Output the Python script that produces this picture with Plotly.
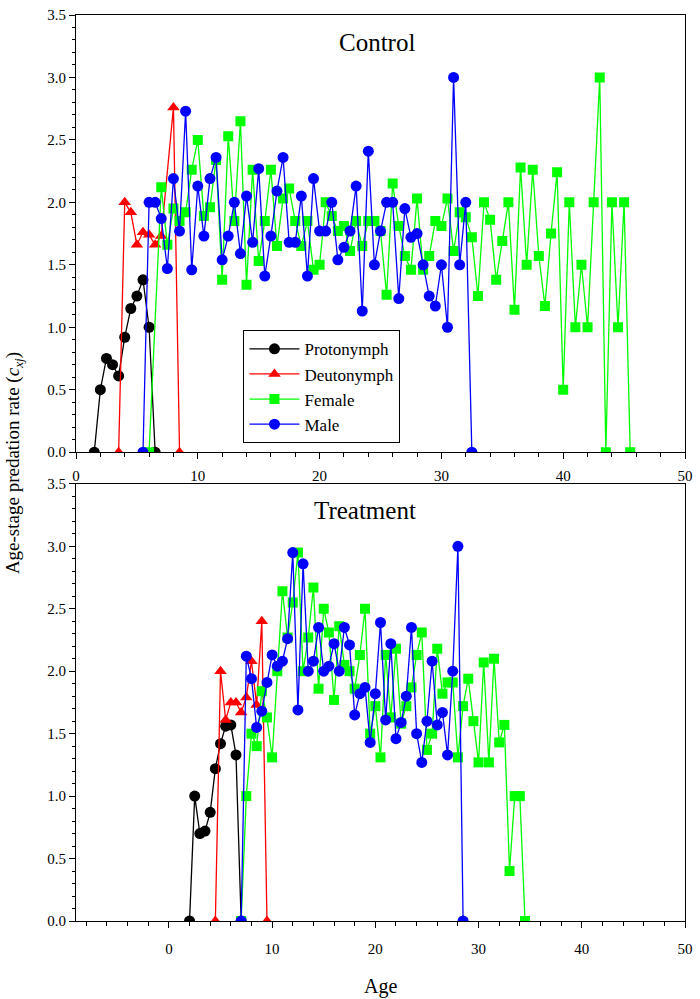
import plotly.graph_objects as go

# ---------------- Control ----------------
proto_c_x = [1.5, 2, 2.5, 3, 3.5, 4, 4.5, 5, 5.5, 6, 6.5]
proto_c_y = [0, 0.50, 0.75, 0.70, 0.61, 0.92, 1.15, 1.25, 1.38, 1.00, 0]
deuto_c_x = [3.5, 4, 4.5, 5, 5.5, 6, 6.5, 7, 8, 8.5]
deuto_c_y = [0, 2.00, 1.92, 1.66, 1.76, 1.74, 1.66, 1.73, 2.76, 0]
fem_c_x = [6, 7, 7.5, 8, 8.5, 9, 9.5, 10, 10.5, 11, 11.5, 12, 12.5, 13, 13.5, 14, 14.5, 15, 15.5,
           16, 16.5, 17, 17.5, 18, 18.5, 19, 19.5, 20, 20.5, 21, 21.5, 22, 22.5, 23, 23.5, 24, 24.5,
           25, 25.5, 26, 26.5, 27, 27.5, 28, 28.5, 29, 29.5, 30, 30.5, 31, 31.5, 32, 32.5, 33, 33.5,
           34, 34.5, 35, 35.5, 36, 36.5, 37, 37.5, 38, 38.5, 39, 39.5, 40, 40.5, 41, 41.5, 42, 42.5,
           43, 43.5, 44, 44.5, 45, 45.5]
fem_c_y = [0, 2.12, 1.66, 1.95, 1.85, 1.92, 2.26, 2.50, 1.89, 1.96, 2.34, 1.38, 2.53, 1.85, 2.65,
           1.34, 2.26, 1.53, 1.85, 2.26, 1.65, 2.03, 2.11, 1.85, 1.65, 1.85, 1.46, 1.50, 2.00, 1.89,
           1.77, 1.81, 1.61, 1.85, 1.65, 1.85, 1.85, 1.77, 1.26, 2.15, 1.81, 1.57, 1.46, 2.03, 1.46,
           1.57, 1.85, 1.81, 2.03, 1.61, 1.92, 1.88, 1.72, 1.25, 2.00, 1.86, 1.38, 1.69, 2.00, 1.14,
           2.28, 1.50, 2.26, 1.57, 1.17, 1.75, 2.24, 0.50, 2.00, 1.00, 1.50, 1.00, 2.00, 3.00, 0,
           2.00, 1.00, 2.00, 0]
male_c_x = [5.5, 6, 6.5, 7, 7.5, 8, 8.5, 9, 9.5, 10, 10.5, 11, 11.5, 12, 12.5, 13, 13.5, 14, 14.5,
            15, 15.5, 16, 16.5, 17, 17.5, 18, 18.5, 19, 19.5, 20, 20.5, 21, 21.5, 22, 22.5, 23, 23.5,
            24, 24.5, 25, 25.5, 26, 26.5, 27, 27.5, 28, 28.5, 29, 29.5, 30, 30.5, 31, 31.5, 32, 32.5]
male_c_y = [0, 2.00, 2.00, 1.87, 1.47, 2.19, 1.77, 2.73, 1.46, 2.13, 1.73, 2.19, 2.36, 1.54, 1.73,
            2.00, 1.59, 2.05, 1.68, 2.27, 1.41, 1.73, 2.09, 2.36, 1.68, 1.68, 2.05, 1.41, 2.19, 1.77,
            1.77, 2.00, 1.54, 1.64, 1.77, 2.13, 1.13, 2.41, 1.50, 1.77, 2.00, 2.00, 1.23, 1.95, 1.72,
            1.75, 1.50, 1.25, 1.17, 1.50, 1.00, 3.00, 1.50, 2.00, 0]

# ---------------- Treatment ----------------
proto_t_x = [2, 2.5, 3, 3.5, 4, 4.5, 5, 5.5, 6, 6.5, 7]
proto_t_y = [0, 1.00, 0.70, 0.72, 0.87, 1.22, 1.42, 1.56, 1.57, 1.33, 0]
deuto_t_x = [4.5, 5, 5.5, 6, 6.5, 7, 7.5, 8, 8.5, 9, 9.5]
deuto_t_y = [0, 2.00, 1.61, 1.75, 1.75, 1.67, 1.79, 2.08, 1.73, 2.40, 0]
fem_t_x = [7, 7.5, 8, 8.5, 9, 9.5, 10, 10.5, 11, 11.5, 12, 12.5, 13, 13.5, 14, 14.5, 15, 15.5, 16,
           16.5, 17, 17.5, 18, 18.5, 19, 19.5, 20, 20.5, 21, 21.5, 22, 22.5, 23, 23.5, 24, 24.5, 25,
           25.5, 26, 26.5, 27, 27.5, 28, 28.5, 29, 29.5, 30, 30.5, 31, 31.5, 32, 32.5, 33, 33.5, 34,
           34.5]
fem_t_y = [0, 1.00, 1.50, 1.40, 1.84, 1.63, 1.31, 2.00, 2.64, 2.27, 2.55, 2.95, 2.00, 2.27, 2.67,
           1.86, 2.50, 2.31, 1.77, 2.36, 2.05, 2.00, 1.86, 2.13, 2.50, 1.50, 1.72, 1.31, 2.13, 1.63,
           2.18, 1.58, 1.72, 1.87, 2.13, 2.31, 1.37, 1.50, 2.18, 1.82, 1.91, 1.91, 1.31, 1.72, 1.94,
           1.60, 1.27, 2.07, 1.27, 2.10, 1.43, 1.57, 0.40, 1.00, 1.00, 0]
male_t_x = [7, 7.5, 8, 8.5, 9, 9.5, 10, 10.5, 11, 11.5, 12, 12.5, 13, 13.5, 14, 14.5, 15, 15.5, 16,
            16.5, 17, 17.5, 18, 18.5, 19, 19.5, 20, 20.5, 21, 21.5, 22, 22.5, 23, 23.5, 24, 24.5, 25,
            25.5, 26, 26.5, 27, 27.5, 28, 28.5]
male_t_y = [0, 2.12, 1.94, 1.55, 1.68, 1.91, 2.13, 2.04, 2.08, 2.26, 2.95, 1.69, 2.86, 2.00, 2.08,
            2.35, 2.00, 2.04, 2.22, 2.00, 2.35, 2.21, 1.65, 1.82, 1.87, 1.43, 1.82, 2.39, 1.61, 2.22,
            1.46, 1.59, 1.80, 2.35, 1.50, 1.27, 1.60, 2.08, 1.57, 1.67, 1.33, 2.00, 3.00, 0]

stage_names = ["Protonymph", "Deutonymph", "Female", "Male"]
stage_colors = ["#000000", "#ff0000", "#00ff00", "#0000ff"]
stage_symbols = ["circle", "triangle-up", "square", "circle"]
stage_sizes = [11, 11, 10, 11]

FONT = "Liberation Serif, Times New Roman, serif"

fig = go.Figure()

control = [(proto_c_x, proto_c_y), (deuto_c_x, deuto_c_y), (fem_c_x, fem_c_y), (male_c_x, male_c_y)]
treat = [(proto_t_x, proto_t_y), (deuto_t_x, deuto_t_y), (fem_t_x, fem_t_y), (male_t_x, male_t_y)]

for i, (xs, ys) in enumerate(control):
    fig.add_trace(go.Scatter(x=xs, y=ys, mode="lines+markers", name=stage_names[i],
                             line=dict(color=stage_colors[i], width=1.3),
                             marker=dict(symbol=stage_symbols[i], size=stage_sizes[i],
                                         color=stage_colors[i]),
                             xaxis="x", yaxis="y", showlegend=True))
for i, (xs, ys) in enumerate(treat):
    fig.add_trace(go.Scatter(x=xs, y=ys, mode="lines+markers", name=stage_names[i],
                             line=dict(color=stage_colors[i], width=1.3),
                             marker=dict(symbol=stage_symbols[i], size=stage_sizes[i],
                                         color=stage_colors[i]),
                             xaxis="x2", yaxis="y2", showlegend=False))

axis_common = dict(showline=True, linecolor="black", linewidth=1, mirror=True,
                   ticks="outside", ticklen=6, tickcolor="black", showgrid=False,
                   zeroline=False, tickfont=dict(family=FONT, size=15, color="black"))
xminor = dict(dtick=2, ticks="outside", ticklen=4, tickcolor="black")
yminor = dict(dtick=0.1, ticks="outside", ticklen=3, tickcolor="black")

fig.update_layout(
    width=700, height=999,
    margin=dict(l=76, r=14, t=7, b=78),
    paper_bgcolor="white", plot_bgcolor="white",
    xaxis=dict(domain=[0, 1], range=[0, 50], dtick=10, anchor="y", ticklabelstandoff=4,
               minor=xminor, **axis_common),
    yaxis=dict(domain=[0.5175, 1.0], range=[0, 3.5], dtick=0.5, tickformat=".1f", anchor="x",
               minor=yminor, **axis_common),
    xaxis2=dict(domain=[0, 1], range=[-9, 50], dtick=10, anchor="y2", ticklabelstandoff=8,
                minor=xminor, **axis_common),
    yaxis2=dict(domain=[0, 0.4825], range=[0, 3.5], dtick=0.5, tickformat=".1f", anchor="x2",
                minor=yminor, **axis_common),
    legend=dict(x=0.275, y=0.652, xanchor="left", yanchor="top",
                bordercolor="black", borderwidth=1, bgcolor="white", itemwidth=50,
                font=dict(family=FONT, size=17, color="black"), tracegroupgap=0),
    annotations=[
        dict(text="Control", x=24.7, y=3.28, xref="x", yref="y", showarrow=False,
             xanchor="center", yanchor="middle",
             font=dict(family=FONT, size=25, color="black")),
        dict(text="Treatment", x=19.0, y=3.29, xref="x2", yref="y2", showarrow=False,
             xanchor="center", yanchor="middle",
             font=dict(family=FONT, size=25, color="black")),
        dict(text="Age-stage predation rate (<i>c</i><sub><i>xj</i></sub>)",
             x=(14 - 76) / 610, y=0.5055, xref="paper", yref="paper", textangle=-90,
             xanchor="center", yanchor="middle", showarrow=False,
             font=dict(family=FONT, size=19, color="black")),
        dict(text="Age", x=0.5, y=-0.072, xref="paper", yref="paper", showarrow=False,
             xanchor="center", yanchor="middle",
             font=dict(family=FONT, size=20, color="black")),
    ],
)

fig.write_html("out.html", config={"displayModeBar": False},
               post_script="document.body.style.margin='0';document.body.style.padding='0';"
                           "document.body.style.overflow='hidden';"
                           "document.documentElement.style.overflow='hidden';")
